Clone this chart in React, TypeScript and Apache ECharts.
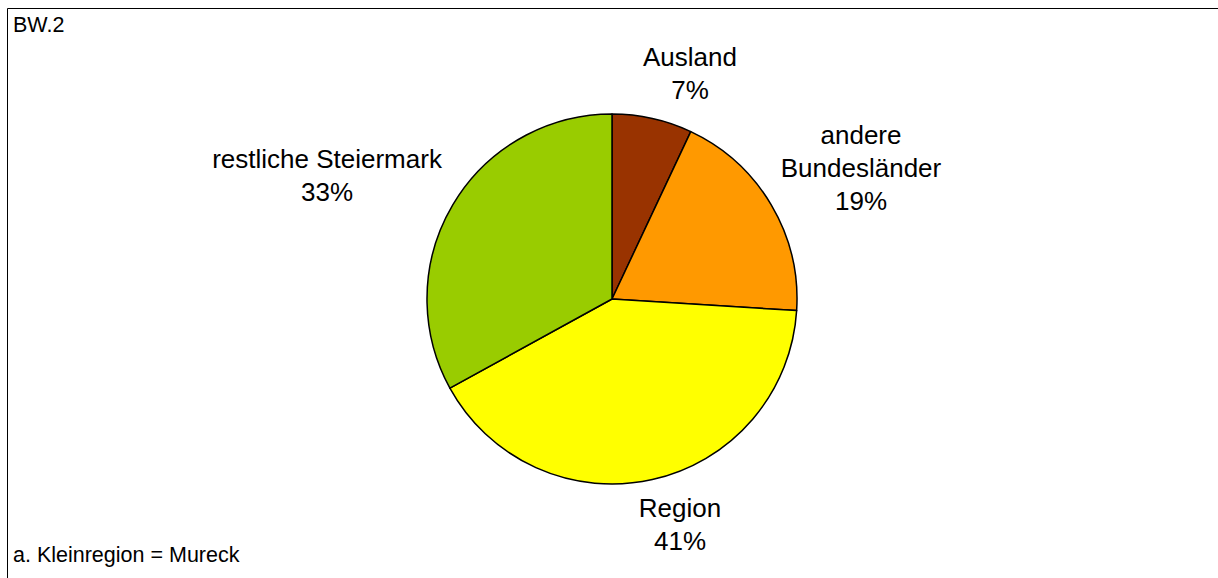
import React, { useEffect, useRef } from "react";
import * as echarts from "echarts";

const categories = ["Ausland", "andere\nBundesländer", "Region", "restliche Steiermark"];
const values = [7, 19, 41, 33];
const colors = ["#993300", "#FF9900", "#FFFF00", "#99CC00"];
const labelCenters: [number, number][] = [
  [690, 73],
  [861, 168],
  [680, 524],
  [327, 175],
];

export default function App() {
  const ref = useRef<HTMLDivElement>(null);
  useEffect(() => {
    if (!ref.current) return;
    const chart = echarts.init(ref.current, undefined, { renderer: "svg" });
    chart.setOption({
      animation: false,
      backgroundColor: "#ffffff",
      textStyle: { fontFamily: "Liberation Sans, Arial, sans-serif" },
      graphic: [
        {
          type: "rect",
          shape: { x: 7.5, y: 8.5, width: 1240, height: 600 },
          style: { fill: "none", stroke: "#000000", lineWidth: 1 },
          silent: true,
        },
        {
          type: "text",
          x: 13,
          y: 25,
          style: {
            text: "BW.2",
            fontSize: 21.5,
            fontFamily: "Liberation Sans, Arial, sans-serif",
            fill: "#000000",
            verticalAlign: "middle",
            align: "left",
          },
        },
        {
          type: "text",
          x: 13,
          y: 555,
          style: {
            text: "a. Kleinregion = Mureck",
            fontSize: 21.5,
            fontFamily: "Liberation Sans, Arial, sans-serif",
            fill: "#000000",
            verticalAlign: "middle",
            align: "left",
          },
        },
      ],
      series: [
        {
          type: "pie",
          center: [612, 299],
          radius: 185,
          startAngle: 90,
          clockwise: true,
          data: categories.map((name, i) => ({
            name,
            value: values[i],
            itemStyle: { color: colors[i] },
          })),
          itemStyle: { borderColor: "#000000", borderWidth: 1.5 },
          label: {
            show: true,
            position: "outside",
            formatter: (p: any) => `${p.name}\n${Math.round(p.percent)}%`,
            fontSize: 26,
            lineHeight: 33,
            color: "#000000",
            fontFamily: "Liberation Sans, Arial, sans-serif",
            align: "center",
          },
          labelLine: { show: false },
          labelLayout: (params: any) => {
            const c = labelCenters[params.dataIndex];
            return { x: c[0], y: c[1], align: "center", verticalAlign: "middle" };
          },
          emphasis: { disabled: true },
        },
      ],
    });
    return () => chart.dispose();
  }, []);
  return (
    <div
      ref={ref}
      style={{ position: "absolute", left: 0, top: 0, width: 1218, height: 578 }}
    />
  );
}
